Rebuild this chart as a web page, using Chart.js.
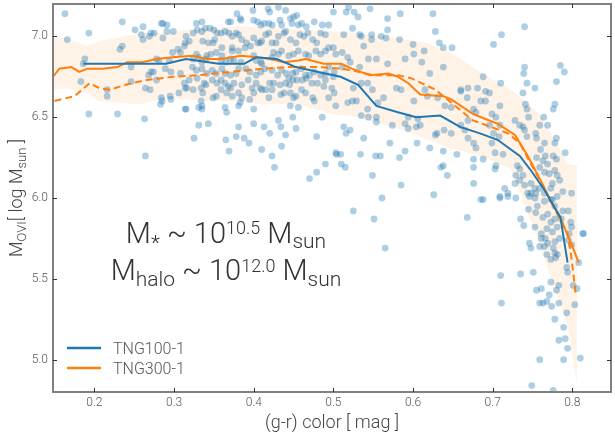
<!DOCTYPE html>
<html>
<head>
<meta charset="utf-8">
<script src="https://cdn.jsdelivr.net/npm/chart.js@4.4.1/dist/chart.umd.min.js"></script>
<style>
  html, body { margin: 0; padding: 0; background: #fff; }
  #wrap { width: 615px; height: 437px; position: relative; }
</style>
</head>
<body>
<div id="wrap"><canvas id="chart"></canvas></div>
<script>
// axis ticks
const xTicks = [0.2, 0.3, 0.4, 0.5, 0.6, 0.7, 0.8];
const yTicks = [5.0, 5.5, 6.0, 6.5, 7.0];

// individual galaxies: [g-r colour, log M_OVI]
const galaxies = [
  [.163,7.14],[.166,6.98],[.193,7.02],[.235,7.09],[.251,7.04],[.261,7.06],[.259,7.01],[.261,6.98],[.269,7.00],[.271,7.02],
  [.275,7.02],[.284,7.08],[.286,7.08],[.291,7.07],[.291,7.03],[.299,7.03],[.286,6.99],[.232,6.92],[.235,6.94],[.188,6.86],
  [.186,6.83],[.183,6.72],[.246,6.81],[.246,6.72],[.216,6.67],[.216,6.63],[.264,6.68],[.270,6.67],[.268,6.76],[.271,6.78],
  [.274,6.78],[.278,6.73],[.278,6.86],[.281,6.85],[.289,6.80],[.294,6.85],[.298,6.90],[.305,6.92],[.308,6.90],[.313,6.94],
  [.315,7.00],[.314,6.96],[.296,6.78],[.308,6.77],[.313,6.71],[.306,6.65],[.314,6.68],[.316,6.68],[.284,6.62],[.285,6.60],
  [.283,6.58],[.295,6.63],[.296,6.61],[.314,6.55],[.315,6.55],[.193,6.52],[.229,6.52],[.263,6.49],[.264,6.26],
  [.399,7.16],[.418,7.17],[.420,7.15],[.431,7.18],[.440,7.16],[.379,7.14],[.383,7.11],[.368,7.09],[.371,7.09],[.335,7.09],
  [.328,7.08],[.384,7.10],[.400,7.10],[.405,7.09],[.409,7.07],[.413,7.08],[.419,7.08],[.423,7.07],[.433,7.10],[.435,7.07],
  [.446,7.11],[.450,7.12],[.454,7.13],[.448,7.08],[.456,7.07],[.460,7.08],[.466,7.06],[.476,7.09],[.486,7.07],[.324,7.02],
  [.329,7.04],[.335,7.03],[.339,7.05],[.345,7.05],[.350,7.04],[.354,7.02],[.359,7.02],[.364,7.03],[.369,7.02],[.373,7.00],
  [.378,7.02],[.381,7.01],[.385,6.98],[.391,6.96],[.400,6.99],[.405,6.96],[.408,6.96],[.410,6.97],[.415,7.01],[.419,7.02],
  [.423,6.96],[.428,6.96],[.431,7.00],[.438,7.02],[.440,7.03],[.446,6.98],[.453,6.96],[.458,7.01],[.463,7.00],[.468,7.02],
  [.474,6.98],[.479,6.96],[.484,7.02],[.490,7.01],[.319,6.97],[.336,6.97],[.343,6.96],[.349,6.96],[.351,6.98],[.360,6.93],
  [.373,6.93],[.373,6.91],[.381,6.91],[.389,6.93],[.396,6.94],[.328,6.89],[.331,6.87],[.341,6.88],[.346,6.89],[.353,6.90],
  [.360,6.88],[.324,6.86],[.335,6.84],[.340,6.86],[.359,6.85],[.365,6.84],[.371,6.86],[.375,6.85],[.384,6.84],[.400,6.88],
  [.403,6.85],[.409,6.84],[.410,6.83],[.423,6.87],[.425,6.90],[.431,6.89],[.435,6.91],[.444,6.88],[.450,6.89],[.456,6.91],
  [.465,6.89],[.469,6.88],[.478,6.91],[.484,6.89],[.490,6.91],[.323,6.81],[.328,6.79],[.335,6.80],[.341,6.77],[.348,6.79],
  [.353,6.77],[.360,6.80],[.364,6.77],[.371,6.76],[.378,6.77],[.381,6.80],[.390,6.80],[.395,6.78],[.403,6.76],[.409,6.78],
  [.414,6.80],[.423,6.79],[.430,6.76],[.435,6.79],[.441,6.77],[.444,6.74],[.449,6.77],[.453,6.78],[.460,6.80],[.465,6.76],
  [.470,6.76],[.476,6.78],[.484,6.76],[.490,6.77],[.319,6.73],[.329,6.74],[.338,6.71],[.340,6.70],[.348,6.73],[.354,6.71],
  [.359,6.73],[.364,6.71],[.368,6.69],[.371,6.68],[.375,6.71],[.385,6.70],[.393,6.73],[.398,6.68],[.403,6.71],[.408,6.68],
  [.415,6.67],[.420,6.71],[.425,6.71],[.433,6.70],[.440,6.71],[.445,6.70],[.449,6.73],[.454,6.73],[.461,6.73],[.466,6.74],
  [.473,6.71],[.480,6.71],[.488,6.69],[.490,6.73],[.324,6.67],[.334,6.68],[.336,6.65],[.349,6.62],[.353,6.63],[.359,6.67],
  [.366,6.65],[.373,6.63],[.381,6.65],[.385,6.62],[.395,6.61],[.400,6.65],[.410,6.67],[.419,6.62],[.423,6.67],[.434,6.64],
  [.438,6.65],[.446,6.65],[.450,6.62],[.453,6.63],[.460,6.67],[.465,6.65],[.474,6.62],[.476,6.60],[.334,6.60],[.335,6.57],
  [.331,6.56],[.335,6.55],[.364,6.56],[.366,6.53],[.383,6.59],[.381,6.57],[.400,6.55],[.446,6.57],[.456,6.56],[.449,6.50],
  [.431,6.48],[.434,6.44],[.453,6.43],[.486,6.50],[.331,6.45],[.343,6.46],[.325,6.37],[.365,6.36],[.378,6.38],[.388,6.37],
  [.394,6.34],[.381,6.44],[.400,6.46],[.413,6.44],[.420,6.40],[.410,6.30],[.440,6.39],[.435,6.32],[.423,6.26],[.426,6.19],
  [.369,6.29],[.479,6.38],[.490,6.21],[.479,6.16],[.470,6.12],
  [.500,7.15],[.516,7.15],[.519,7.18],[.526,7.15],[.531,7.12],[.546,7.17],[.568,7.11],[.584,7.14],[.625,7.14],[.494,7.07],
  [.524,7.05],[.533,7.01],[.535,7.00],[.548,7.01],[.548,6.98],[.538,6.94],[.513,7.01],[.560,7.00],[.568,7.04],[.566,6.99],
  [.583,6.98],[.628,7.03],[.633,6.96],[.638,6.93],[.649,6.93],[.494,6.93],[.500,6.93],[.503,6.89],[.511,6.90],[.518,6.87],
  [.521,6.84],[.533,6.81],[.544,6.86],[.554,6.86],[.568,6.83],[.600,6.95],[.601,6.89],[.614,6.91],[.590,6.86],[.611,6.84],
  [.621,6.77],[.638,6.81],[.660,6.66],[.668,6.62],[.501,6.78],[.511,6.81],[.494,6.81],[.500,6.75],[.498,6.68],[.501,6.65],
  [.494,6.62],[.503,6.57],[.518,6.59],[.524,6.60],[.529,6.60],[.535,6.51],[.543,6.55],[.544,6.50],[.554,6.50],[.554,6.47],
  [.563,6.62],[.556,6.59],[.535,6.71],[.543,6.71],[.525,6.68],[.549,6.67],[.579,6.68],[.585,6.67],[.601,6.60],[.615,6.67],
  [.618,6.63],[.631,6.62],[.640,6.57],[.648,6.56],[.660,6.67],[.594,6.50],[.606,6.49],[.594,6.43],[.590,6.46],[.604,6.44],
  [.609,6.45],[.574,6.45],[.513,6.44],[.516,6.40],[.521,6.42],[.538,6.37],[.571,6.34],[.590,6.29],[.583,6.25],[.605,6.34],
  [.628,6.39],[.630,6.40],[.639,6.42],[.648,6.40],[.660,6.45],[.665,6.42],[.621,6.31],[.638,6.29],[.655,6.27],[.503,6.28],
  [.504,6.27],[.509,6.27],[.510,6.21],[.515,6.19],[.553,6.26],[.559,6.26],[.534,6.27],[.549,6.14],[.585,6.08],[.561,6.00],
  [.626,6.02],[.635,6.19],[.638,6.20],[.643,6.14],
  [.740,7.06],[.711,7.01],[.701,6.95],[.740,6.81],[.739,6.77],[.743,6.71],[.753,6.68],[.738,6.65],[.785,6.82],[.790,6.78],
  [.780,6.72],[.710,6.71],[.688,6.75],[.681,6.68],[.669,6.68],[.691,6.66],[.696,6.65],[.685,6.60],[.691,6.60],[.709,6.57],
  [.741,6.58],[.743,6.55],[.778,6.58],[.776,6.55],[.764,6.50],[.769,6.45],[.759,6.45],[.745,6.50],[.738,6.44],[.676,6.55],
  [.679,6.53],[.699,6.52],[.704,6.50],[.669,6.48],[.696,6.45],[.709,6.45],[.728,6.48],[.734,6.45],[.740,6.42],[.743,6.38],
  [.754,6.40],[.755,6.37],[.780,6.37],[.778,6.34],[.791,6.28],[.765,6.34],[.760,6.30],[.701,6.40],[.708,6.38],[.699,6.34],
  [.676,6.34],[.679,6.31],[.713,6.27],[.703,6.28],[.669,6.37],[.755,6.25],[.763,6.23],[.766,6.26],[.769,6.21],[.776,6.26],
  [.780,6.24],[.759,6.19],[.765,6.16],[.771,6.15],[.778,6.17],[.781,6.14],[.784,6.11],[.775,6.09],[.773,6.06],[.731,6.20],
  [.734,6.18],[.738,6.14],[.729,6.14],[.728,6.09],[.734,6.11],[.740,6.08],[.748,6.09],[.753,6.06],[.744,6.03],[.748,6.03],
  [.754,6.03],[.759,6.06],[.676,6.24],[.676,6.19],[.688,6.24],[.704,6.20],[.703,6.18],[.676,6.09],[.685,5.99],[.715,6.06],
  [.709,6.01],[.719,6.03],[.799,6.03],[.788,6.04],[.765,6.03],[.781,6.01],[.775,5.99],
  [.688,5.99],[.709,6.00],[.719,6.01],[.729,6.00],[.746,6.01],[.753,6.00],[.765,5.98],[.756,5.95],[.773,5.99],[.778,5.95],
  [.788,5.92],[.795,5.92],[.745,5.93],[.754,5.91],[.763,5.88],[.769,5.90],[.778,5.87],[.773,5.85],[.786,5.87],[.798,5.85],
  [.799,5.82],[.814,5.78],[.735,5.87],[.739,5.83],[.753,5.82],[.761,5.78],[.768,5.81],[.775,5.79],[.781,5.82],[.796,5.78],
  [.761,5.75],[.766,5.75],[.769,5.72],[.778,5.73],[.784,5.75],[.795,5.74],[.799,5.71],[.746,5.72],[.748,5.69],[.759,5.70],
  [.765,5.70],[.776,5.69],[.778,5.66],[.781,5.65],[.779,5.63],[.768,5.65],[.773,5.62],[.808,5.60],[.793,5.57],[.794,5.54],
  [.813,5.78],[.710,5.52],[.735,5.53],[.751,5.54],[.773,5.48],[.783,5.46],[.761,5.44],[.755,5.43],[.780,5.43],[.801,5.46],
  [.806,5.44],[.771,5.40],[.783,5.35],[.774,5.33],[.759,5.35],[.763,5.35],[.768,5.36],[.803,5.34],[.711,5.35],[.793,5.29],
  [.778,5.25],[.789,5.20],[.783,5.12],[.791,5.13],[.794,5.07],[.759,5.00],[.789,5.00],[.810,5.01],[.749,4.84],[.776,4.81],
  [.525,5.92],[.551,5.87],[.565,5.69],[.668,5.88]
];

// running medians
const tng100X = [.186,.290,.315,.356,.388,.403,.429,.453,.481,.509,.531,.554,.581,.604,.634,.659,.684,.706,.734,.748,.765,.785,.794];
const tng100Y = [6.83,6.83,6.86,6.83,6.83,6.87,6.86,6.81,6.78,6.75,6.70,6.57,6.53,6.50,6.51,6.44,6.40,6.36,6.26,6.17,6.05,5.88,5.60];

const tng300X = [.148,.156,.171,.181,.191,.210,.229,.241,.260,.278,.298,.323,.341,.359,.384,.403,.421,.438,.456,.465,
  .488,.510,.523,.546,.569,.581,.594,.609,.638,.648,.675,.690,.706,.728,.744,.759,.775,.785,.794,.800,.808];
const tng300Y = [6.75,6.80,6.81,6.78,6.80,6.80,6.81,6.84,6.84,6.86,6.87,6.88,6.86,6.86,6.88,6.87,6.86,6.84,6.85,6.86,
  6.83,6.83,6.80,6.76,6.77,6.75,6.71,6.64,6.63,6.61,6.52,6.49,6.46,6.39,6.26,6.12,5.96,5.88,5.77,5.70,5.60];

const tng300AltX = [.150,.175,.194,.206,.219,.246,.266,.298,.331,.373,.410,.444,.481,.510,.523,.550,.581,.598,.628,.648,
  .675,.703,.719,.734,.748,.765,.781,.794,.798,.801,.804];
const tng300AltY = [6.60,6.63,6.71,6.68,6.67,6.71,6.73,6.75,6.76,6.78,6.80,6.81,6.81,6.80,6.79,6.76,6.76,6.74,6.67,6.59,
  6.48,6.43,6.40,6.34,6.21,6.06,5.90,5.78,5.66,5.54,5.41];

// scatter band (16th-84th percentile)
const bandX    = [.148,.165,.190,.206,.228,.256,.290,.315,.340,.373,.415,.456,.498,.531,.581,.615,.644,.669,.694,.723,.741,.760,.778,.794,.806];
const bandHigh = [6.99,6.99,6.94,6.97,6.99,7.02,7.02,7.04,7.05,7.06,7.06,7.04,7.03,7.02,6.99,6.96,6.91,6.83,6.75,6.67,6.60,6.51,6.36,6.21,6.20];
const bandLow  = [6.67,6.68,6.65,6.60,6.59,6.58,6.62,6.61,6.60,6.60,6.58,6.58,6.52,6.50,6.43,6.37,6.31,6.28,6.24,6.18,5.95,5.69,5.44,5.21,4.84];

const BLUE = '#1f77b4';
const ORANGE = '#ff7f0e';
const FONT = 'Roboto, "Open Sans", "DejaVu Sans", sans-serif';

const toPoints = (xs, ys) => xs.map((x, i) => ({ x, y: ys[i] }));

// draws a run of text pieces (sub/superscripts) centred on cx
function drawRuns(ctx, runs, cx, baseline) {
  let total = 0;
  runs.forEach(r => {
    ctx.font = `300 ${r.size}px ${FONT}`;
    r.w = ctx.measureText(r.text).width;
    total += r.w;
  });
  let x = cx - total / 2;
  runs.forEach(r => {
    ctx.font = `300 ${r.size}px ${FONT}`;
    ctx.fillText(r.text, x, baseline + (r.dy || 0));
    x += r.w;
  });
}

const framePlugin = {
  id: 'frame',
  afterDraw(chart) {
    const { ctx, chartArea: a, scales: { x, y } } = chart;
    ctx.save();

    // spines
    ctx.strokeStyle = '#808080';
    ctx.lineWidth = 2;
    ctx.strokeRect(a.left, a.top, a.right - a.left, a.bottom - a.top);

    // inward ticks on all four sides
    ctx.strokeStyle = '#333';
    ctx.lineWidth = 1;
    ctx.beginPath();
    xTicks.forEach(v => {
      const px = Math.round(x.getPixelForValue(v)) + 0.5;
      ctx.moveTo(px, a.bottom); ctx.lineTo(px, a.bottom - 4);
      ctx.moveTo(px, a.top); ctx.lineTo(px, a.top + 4);
    });
    yTicks.forEach(v => {
      const py = Math.round(y.getPixelForValue(v)) + 0.5;
      ctx.moveTo(a.left, py); ctx.lineTo(a.left + 4, py);
      ctx.moveTo(a.right, py); ctx.lineTo(a.right - 4, py);
    });
    ctx.stroke();

    ctx.textAlign = 'left';
    ctx.textBaseline = 'alphabetic';

    // axis titles
    ctx.fillStyle = '#444';
    drawRuns(ctx, [{ text: '(g-r) color [ mag ]', size: 18 }], (a.left + a.right) / 2, 428);
    ctx.save();
    ctx.translate(22, (a.top + a.bottom) / 2);
    ctx.rotate(-Math.PI / 2);
    drawRuns(ctx, [
      { text: 'M', size: 18 },
      { text: 'OVI', size: 13, dy: 4 },
      { text: '[ log M', size: 18 },
      { text: 'sun', size: 13, dy: 4 },
      { text: ' ]', size: 18 }
    ], 0, 0);
    ctx.restore();

    // mass annotation
    ctx.fillStyle = '#333';
    drawRuns(ctx, [
      { text: 'M', size: 29 },
      { text: '*', size: 21, dy: 7 },
      { text: ' ~ 10', size: 29 },
      { text: '10.5', size: 18, dy: -9 },
      { text: ' M', size: 29 },
      { text: 'sun', size: 21, dy: 5 }
    ], 226, 243);
    drawRuns(ctx, [
      { text: 'M', size: 29 },
      { text: 'halo', size: 21, dy: 6 },
      { text: ' ~ 10', size: 29 },
      { text: '12.0', size: 18, dy: -8 },
      { text: ' M', size: 29 },
      { text: 'sun', size: 21, dy: 6 }
    ], 226, 280);

    // legend
    const entries = [['TNG100-1', BLUE, 348], ['TNG300-1', ORANGE, 368]];
    ctx.lineWidth = 2.5;
    ctx.font = `300 16px ${FONT}`;
    entries.forEach(([label, color, ly]) => {
      ctx.strokeStyle = color;
      ctx.beginPath();
      ctx.moveTo(67, ly); ctx.lineTo(101, ly);
      ctx.stroke();
      ctx.fillStyle = '#555';
      ctx.fillText(label, 113, ly + 6);
    });

    ctx.restore();
  }
};

const lineStyle = {
  showLine: true,
  pointRadius: 0,
  borderWidth: 2,
  fill: false,
  tension: 0,
  clip: 0
};

new Chart(document.getElementById('chart'), {
  type: 'scatter',
  data: {
    datasets: [
      { ...lineStyle, label: 'TNG100-1', data: toPoints(tng100X, tng100Y), borderColor: BLUE, order: 0 },
      { ...lineStyle, label: 'TNG300-1', data: toPoints(tng300X, tng300Y), borderColor: ORANGE, order: 0 },
      { ...lineStyle, label: 'TNG300-1 alt', data: toPoints(tng300AltX, tng300AltY), borderColor: ORANGE, borderDash: [7, 4], order: 0 },
      {
        label: 'galaxies',
        data: galaxies.map(([x, y]) => ({ x, y })),
        pointRadius: 3.4,
        pointBorderWidth: 0,
        backgroundColor: 'rgba(31,119,180,0.36)',
        borderColor: 'rgba(0,0,0,0)',
        clip: 0,
        order: 1
      },
      { ...lineStyle, label: 'band high', data: toPoints(bandX, bandHigh), borderWidth: 0, borderColor: 'rgba(0,0,0,0)', fill: '+1', backgroundColor: 'rgba(255,127,14,0.1)', order: 2 },
      { ...lineStyle, label: 'band low', data: toPoints(bandX, bandLow), borderWidth: 0, borderColor: 'rgba(0,0,0,0)', order: 2 }
    ]
  },
  options: {
    responsive: true,
    maintainAspectRatio: false,
    animation: false,
    layout: { padding: { top: 4, right: 1, left: 0, bottom: 0 } },
    plugins: {
      legend: { display: false },
      tooltip: { enabled: false }
    },
    scales: {
      x: {
        type: 'linear',
        min: 0.148,
        max: 0.8485,
        grid: { display: false, drawTicks: false },
        border: { display: false },
        afterBuildTicks: s => { s.ticks = xTicks.map(v => ({ value: v })); },
        afterFit: s => { s.height = 45; s.paddingLeft = 0; s.paddingRight = 0; },
        ticks: {
          padding: 4,
          color: '#555',
          font: { family: FONT, size: 12, weight: 300 },
          callback: v => v.toFixed(1)
        }
      },
      y: {
        type: 'linear',
        min: 4.8,
        max: 7.2,
        grid: { display: false, drawTicks: false },
        border: { display: false },
        afterBuildTicks: s => { s.ticks = yTicks.map(v => ({ value: v })); },
        afterFit: s => { s.width = 53; s.paddingTop = 0; s.paddingBottom = 0; },
        ticks: {
          padding: 5,
          color: '#555',
          font: { family: FONT, size: 12, weight: 300 },
          callback: v => v.toFixed(1)
        }
      }
    }
  },
  plugins: [framePlugin]
});
</script>
</body>
</html>
